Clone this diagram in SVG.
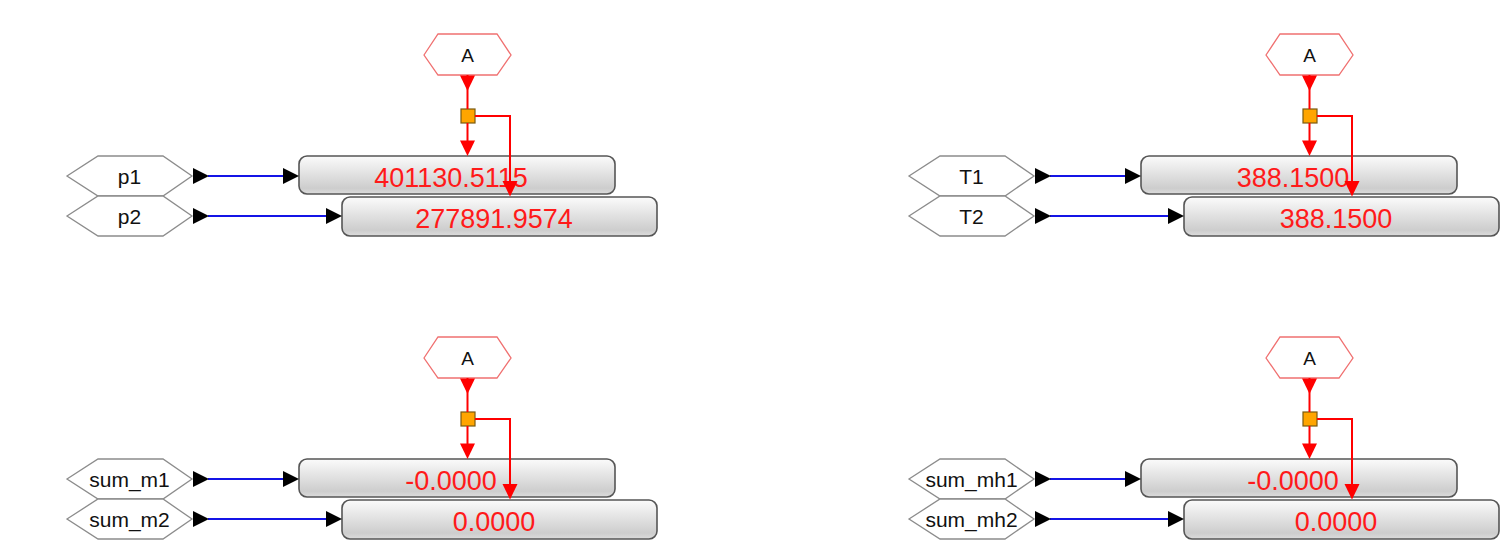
<svg xmlns="http://www.w3.org/2000/svg" width="1500" height="546" viewBox="0 0 1500 546">
<defs>
<linearGradient id="boxg" x1="0" y1="0" x2="0" y2="1">
<stop offset="0" stop-color="#fbfbfb"/>
<stop offset="0.85" stop-color="#cdcdcd"/>
<stop offset="1" stop-color="#dcdcdc"/>
</linearGradient>
<style>
.hex{fill:#ffffff;stroke:#8c8c8c;stroke-width:1.3}
.hexa{fill:#ffffff;stroke:#f07070;stroke-width:1.3}
.lbl{font-family:"Liberation Sans",Arial,sans-serif;font-size:21px;fill:#111;text-anchor:middle}
.lbla{font-family:"Liberation Sans",Arial,sans-serif;font-size:19px;fill:#111;text-anchor:middle}
.box{fill:url(#boxg);stroke:#555;stroke-width:1.6}
.val{font-family:"Liberation Sans",Arial,sans-serif;font-size:27px;fill:#ff1a1a;text-anchor:middle}
.jn{fill:#ffa500;stroke:#7a5a10;stroke-width:1.2}
.blue{stroke:#1414e6;stroke-width:2;fill:none}
.red{stroke:#ff0000;stroke-width:2;fill:none}
.ahb{fill:#000}
.ahr{fill:#ff0000}
</style>
</defs>
<rect width="1500" height="546" fill="#ffffff"/>

<!-- Quadrant 1 -->
<g id="p1" transform="translate(0,0)"><polygon class="hex" points="67,176 98,156 163,156 192,176 163,196 98,196"/><text class="lbl" x="129.5" y="183.5">p1</text></g>
<g id="p2" transform="translate(0,0)"><polygon class="hex" points="67,216 98,196 163,196 192,216 163,236 98,236"/><text class="lbl" x="129.5" y="223.5">p2</text></g>
<g id="A1" transform="translate(0,0)"><polygon class="hexa" points="424,55 438,34 497,34 511,55 497,75 438,75"/><text class="lbla" x="467.5" y="62">A</text></g>
<g id="box1a" transform="translate(0,0)"><rect class="box" x="299" y="156" width="316" height="38" rx="8"/><text class="val" x="451" y="187">401130.5115</text></g>
<g id="box1b" transform="translate(0,0)"><rect class="box" x="342" y="197" width="315" height="39" rx="8"/><text class="val" x="494" y="227.5">277891.9574</text></g>
<g id="j1" transform="translate(0,0)"><rect class="jn" x="461" y="109" width="14" height="14"/></g>

<!-- Quadrant 2 -->
<g id="T1" transform="translate(842,0)"><polygon class="hex" points="67,176 98,156 163,156 192,176 163,196 98,196"/><text class="lbl" x="129.5" y="183.5">T1</text></g>
<g id="T2" transform="translate(842,0)"><polygon class="hex" points="67,216 98,196 163,196 192,216 163,236 98,236"/><text class="lbl" x="129.5" y="223.5">T2</text></g>
<g id="A2" transform="translate(842,0)"><polygon class="hexa" points="424,55 438,34 497,34 511,55 497,75 438,75"/><text class="lbla" x="467.5" y="62">A</text></g>
<g id="box2a" transform="translate(842,0)"><rect class="box" x="299" y="156" width="316" height="38" rx="8"/><text class="val" x="451" y="187">388.1500</text></g>
<g id="box2b" transform="translate(842,0)"><rect class="box" x="342" y="197" width="315" height="39" rx="8"/><text class="val" x="494" y="227.5">388.1500</text></g>
<g id="j2" transform="translate(842,0)"><rect class="jn" x="461" y="109" width="14" height="14"/></g>

<!-- Quadrant 3 -->
<g id="sum_m1" transform="translate(0,303)"><polygon class="hex" points="67,176 98,156 163,156 192,176 163,196 98,196"/><text class="lbl" x="129.5" y="183.5">sum_m1</text></g>
<g id="sum_m2" transform="translate(0,303)"><polygon class="hex" points="67,216 98,196 163,196 192,216 163,236 98,236"/><text class="lbl" x="129.5" y="223.5">sum_m2</text></g>
<g id="A3" transform="translate(0,303)"><polygon class="hexa" points="424,55 438,34 497,34 511,55 497,75 438,75"/><text class="lbla" x="467.5" y="62">A</text></g>
<g id="box3a" transform="translate(0,303)"><rect class="box" x="299" y="156" width="316" height="38" rx="8"/><text class="val" x="451" y="187">-0.0000</text></g>
<g id="box3b" transform="translate(0,303)"><rect class="box" x="342" y="197" width="315" height="39" rx="8"/><text class="val" x="494" y="227.5">0.0000</text></g>
<g id="j3" transform="translate(0,303)"><rect class="jn" x="461" y="109" width="14" height="14"/></g>

<!-- Quadrant 4 -->
<g id="sum_mh1" transform="translate(842,303)"><polygon class="hex" points="67,176 98,156 163,156 192,176 163,196 98,196"/><text class="lbl" x="129.5" y="183.5">sum_mh1</text></g>
<g id="sum_mh2" transform="translate(842,303)"><polygon class="hex" points="67,216 98,196 163,196 192,216 163,236 98,236"/><text class="lbl" x="129.5" y="223.5">sum_mh2</text></g>
<g id="A4" transform="translate(842,303)"><polygon class="hexa" points="424,55 438,34 497,34 511,55 497,75 438,75"/><text class="lbla" x="467.5" y="62">A</text></g>
<g id="box4a" transform="translate(842,303)"><rect class="box" x="299" y="156" width="316" height="38" rx="8"/><text class="val" x="451" y="187">-0.0000</text></g>
<g id="box4b" transform="translate(842,303)"><rect class="box" x="342" y="197" width="315" height="39" rx="8"/><text class="val" x="494" y="227.5">0.0000</text></g>
<g id="j4" transform="translate(842,303)"><rect class="jn" x="461" y="109" width="14" height="14"/></g>

<!-- Connectors -->
<g id="connectors">
<g id="conn-q1" transform="translate(0,0)">
<line class="blue" x1="208" y1="176" x2="284" y2="176"/><polygon class="ahb" points="193,168 209,176 193,184"/><polygon class="ahb" points="283,168 299,176 283,184"/>
<line class="blue" x1="208" y1="216" x2="327" y2="216"/><polygon class="ahb" points="193,208 209,216 193,224"/><polygon class="ahb" points="326,208 342,216 326,224"/>
<line class="red" x1="467.5" y1="75" x2="467.5" y2="109"/><polygon class="ahr" points="460,75.5 475,75.5 467.5,91"/>
<line class="red" x1="467.5" y1="123" x2="467.5" y2="142"/><polygon class="ahr" points="460,140.5 475,140.5 467.5,156"/>
<polyline class="red" points="475,116 510,116 510,182"/><polygon class="ahr" points="502.5,181 517.5,181 510,196.5"/>
</g>
<g id="conn-q2" transform="translate(842,0)">
<line class="blue" x1="208" y1="176" x2="284" y2="176"/><polygon class="ahb" points="193,168 209,176 193,184"/><polygon class="ahb" points="283,168 299,176 283,184"/>
<line class="blue" x1="208" y1="216" x2="327" y2="216"/><polygon class="ahb" points="193,208 209,216 193,224"/><polygon class="ahb" points="326,208 342,216 326,224"/>
<line class="red" x1="467.5" y1="75" x2="467.5" y2="109"/><polygon class="ahr" points="460,75.5 475,75.5 467.5,91"/>
<line class="red" x1="467.5" y1="123" x2="467.5" y2="142"/><polygon class="ahr" points="460,140.5 475,140.5 467.5,156"/>
<polyline class="red" points="475,116 510,116 510,182"/><polygon class="ahr" points="502.5,181 517.5,181 510,196.5"/>
</g>
<g id="conn-q3" transform="translate(0,303)">
<line class="blue" x1="208" y1="176" x2="284" y2="176"/><polygon class="ahb" points="193,168 209,176 193,184"/><polygon class="ahb" points="283,168 299,176 283,184"/>
<line class="blue" x1="208" y1="216" x2="327" y2="216"/><polygon class="ahb" points="193,208 209,216 193,224"/><polygon class="ahb" points="326,208 342,216 326,224"/>
<line class="red" x1="467.5" y1="75" x2="467.5" y2="109"/><polygon class="ahr" points="460,75.5 475,75.5 467.5,91"/>
<line class="red" x1="467.5" y1="123" x2="467.5" y2="142"/><polygon class="ahr" points="460,140.5 475,140.5 467.5,156"/>
<polyline class="red" points="475,116 510,116 510,182"/><polygon class="ahr" points="502.5,181 517.5,181 510,196.5"/>
</g>
<g id="conn-q4" transform="translate(842,303)">
<line class="blue" x1="208" y1="176" x2="284" y2="176"/><polygon class="ahb" points="193,168 209,176 193,184"/><polygon class="ahb" points="283,168 299,176 283,184"/>
<line class="blue" x1="208" y1="216" x2="327" y2="216"/><polygon class="ahb" points="193,208 209,216 193,224"/><polygon class="ahb" points="326,208 342,216 326,224"/>
<line class="red" x1="467.5" y1="75" x2="467.5" y2="109"/><polygon class="ahr" points="460,75.5 475,75.5 467.5,91"/>
<line class="red" x1="467.5" y1="123" x2="467.5" y2="142"/><polygon class="ahr" points="460,140.5 475,140.5 467.5,156"/>
<polyline class="red" points="475,116 510,116 510,182"/><polygon class="ahr" points="502.5,181 517.5,181 510,196.5"/>
</g>
</g>
</svg>
